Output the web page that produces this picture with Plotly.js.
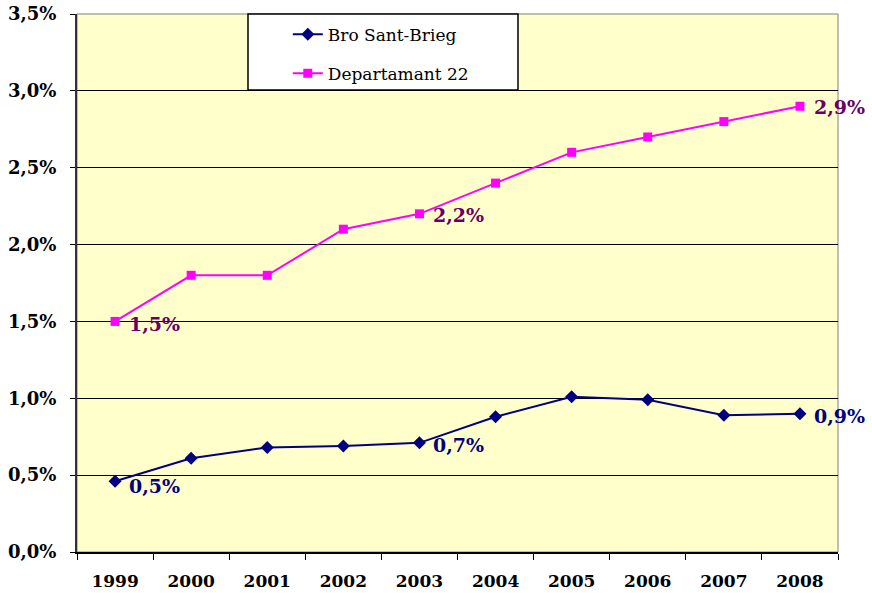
<!DOCTYPE html>
<html><head><meta charset="utf-8">
<script src="https://cdn.plot.ly/plotly-3.0.1.min.js"></script>
<style>html,body{margin:0;padding:0;background:#fff}#c{width:872px;height:593px}</style>
</head><body><div id="c"></div>
<script>
const years = ['1999','2000','2001','2002','2003','2004','2005','2006','2007','2008'];
const broSantBrieg = [0.46, 0.61, 0.68, 0.69, 0.71, 0.88, 1.01, 0.99, 0.89, 0.90];
const departamant22 = [1.5, 1.8, 1.8, 2.1, 2.2, 2.4, 2.6, 2.7, 2.8, 2.9];
const labelIdx = [0, 4, 9];
const yTicks = [0, 0.5, 1, 1.5, 2, 2.5, 3, 3.5];

const PCT = '\u0025';
const fmt = v => v.toFixed(1).replace('.', ',') + PCT;
const serif = 'DejaVu Serif, Liberation Serif, serif';

const traces = [
  {x: years, y: broSantBrieg, name: 'Bro Sant-Brieg', type: 'scatter', mode: 'lines+markers',
   legendgroup: 'a',
   line: {color: '#000080', width: 2}, marker: {symbol: 'diamond', size: 10, color: '#000080'}},
  {x: years, y: departamant22, name: 'Departamant 22', type: 'scatter', mode: 'lines+markers',
   legendgroup: 'b',
   line: {color: '#FF00FF', width: 2}, marker: {symbol: 'square', size: 9, color: '#FF00FF'}}
];

const annotations = [];
for (const i of labelIdx) {
  annotations.push({x: i, y: broSantBrieg[i], xref: 'x', yref: 'y', text: '<b>' + fmt(Math.round(broSantBrieg[i]*10)/10) + '</b>',
    showarrow: false, xanchor: 'left', yanchor: 'middle', xshift: 12, yshift: i === 0 ? -5 : -2,
    font: {family: serif, size: 19, color: '#000080'}});
  annotations.push({x: i, y: departamant22[i], xref: 'x', yref: 'y', text: '<b>' + fmt(departamant22[i]) + '</b>',
    showarrow: false, xanchor: 'left', yanchor: 'middle', xshift: 12, yshift: i === 0 ? -3 : -1,
    font: {family: serif, size: 19, color: '#660066'}});
}

const layout = {
  width: 872, height: 593,
  margin: {l: 77, r: 34, t: 14, b: 41},
  paper_bgcolor: '#ffffff', plot_bgcolor: '#FFFFCC',
  showlegend: true,
  legend: {x: 0.277, y: 0.995, xanchor: 'left', yanchor: 'top', bgcolor: 'rgba(0,0,0,0)', borderwidth: 0,
    tracegroupgap: 14, font: {family: serif, size: 17, color: '#000'}},
  xaxis: {type: 'category', range: [-0.5, 9.5], showgrid: false, showline: true, linecolor: '#000', linewidth: 2,
    ticks: 'outside', tickson: 'boundaries', ticklen: 6, tickcolor: '#000', ticklabelstandoff: 13,
    tickfont: {family: serif, size: 17, weight: 'bold', color: '#000'}, fixedrange: true},
  yaxis: {range: [0, 3.5], tickmode: 'array', tickvals: yTicks, ticktext: yTicks.map(fmt), showgrid: true, gridcolor: '#000', gridwidth: 1,
    showline: true, linecolor: '#333', linewidth: 2, ticks: 'outside', ticklen: 5, tickcolor: '#000', ticklabelstandoff: 10,
    zeroline: false, tickfont: {family: serif, size: 18, weight: 'bold', color: '#000'}, fixedrange: true},
  shapes: [
    {type: 'rect', xref: 'paper', yref: 'paper', x0: 0, x1: 1, y0: 0, y1: 1, line: {color: '#808080', width: 1}, layer: 'below'},
    {type: 'rect', xref: 'paper', yref: 'paper', x0: 0.2247, x1: 0.5795, y0: 0.8587, y1: 1, fillcolor: '#ffffff', line: {color: '#000', width: 1.5}, layer: 'above'}
  ],
  annotations: annotations
};

Plotly.newPlot('c', traces, layout, {displayModeBar: false, staticPlot: true});
</script></body></html>
